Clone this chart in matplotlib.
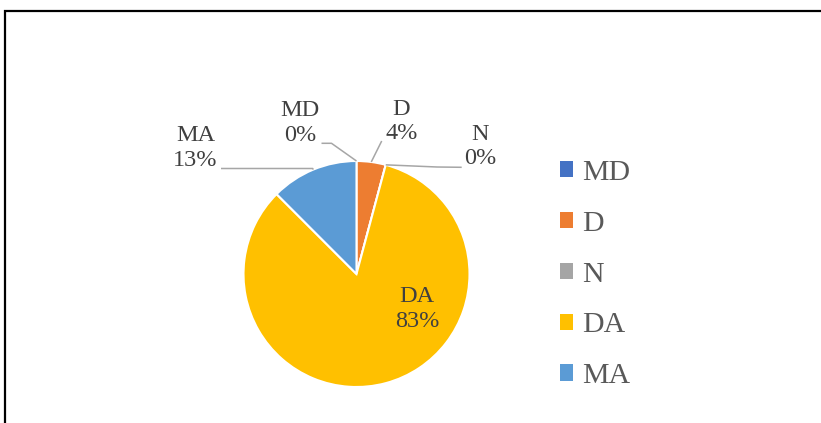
import matplotlib
matplotlib.use("Agg")
import matplotlib.pyplot as plt
import numpy as np
from matplotlib.patches import Rectangle

categories = ["MD", "D", "N", "DA", "MA"]
values = [0, 1, 0, 20, 3]
pct_labels = ["0%", "4%", "0%", "83%", "13%"]
colors = ["#4472C4", "#ED7D31", "#A5A5A5", "#FFC000", "#5B9BD5"]

W, H = 821, 423
plt.rcParams['font.family'] = ['Liberation Serif', 'DejaVu Serif']

fig = plt.figure(figsize=(W / 100, H / 100), dpi=100)
ax = fig.add_axes([0, 0, 1, 1])

cx, cy, r = 356.5, H - 274, 113
wedges, _ = ax.pie(values, colors=colors, startangle=90, counterclock=False,
                   center=(cx, cy), radius=r,
                   wedgeprops=dict(edgecolor="white", linewidth=1.5))
ax.set_xlim(0, W)
ax.set_ylim(0, H)
ax.set_aspect('equal')
ax.axis('off')

# label layout: (text center x, text center y, leader start points)
layout = {
    "MD": ((300, H - 123), [(321.5, H - 143.3), (331.5, H - 143.3)]),
    "D": ((401.5, H - 121.5), [(381.7, H - 141)]),
    "N": ((480, H - 146.5), [(461.7, H - 167.3), (437, H - 167)]),
    "DA": ((417, H - 309), None),
    "MA": ((195.5, H - 148), [(221, H - 168.5), (312.7, H - 168.5)]),
}

for w, cat, pl in zip(wedges, categories, pct_labels):
    (tx, ty), lead = layout[cat]
    ax.text(tx, ty, f"{cat}\n{pl}", ha="center", va="center", fontsize=17.5,
            color="#404040", linespacing=1.2)
    if lead is not None:
        theta = np.deg2rad((w.theta1 + w.theta2) / 2)
        ex, ey = cx + r * np.cos(theta), cy + r * np.sin(theta)
        xs = [p[0] for p in lead] + [ex]
        ys = [p[1] for p in lead] + [ey]
        ax.plot(xs, ys, color="#A6A6A6", linewidth=1.1, solid_capstyle="butt")

leg = ax.legend(wedges, categories, loc="upper left",
                bbox_to_anchor=(560, H - 160), bbox_transform=ax.transData,
                frameon=False, fontsize=21.5, handlelength=0.45, handleheight=0.45,
                handletextpad=0.3, labelspacing=0.83, borderpad=0, borderaxespad=0)
for t in leg.get_texts():
    t.set_color("#595959")
for h in leg.legend_handles:
    h.set_edgecolor("none")

fig.patches.append(Rectangle((5 / W, -0.05), 1.1, (H - 11) / H + 0.05,
                             transform=fig.transFigure, fill=False,
                             edgecolor="black", linewidth=1.6, zorder=10))

fig.savefig("out.png", dpi=100)
